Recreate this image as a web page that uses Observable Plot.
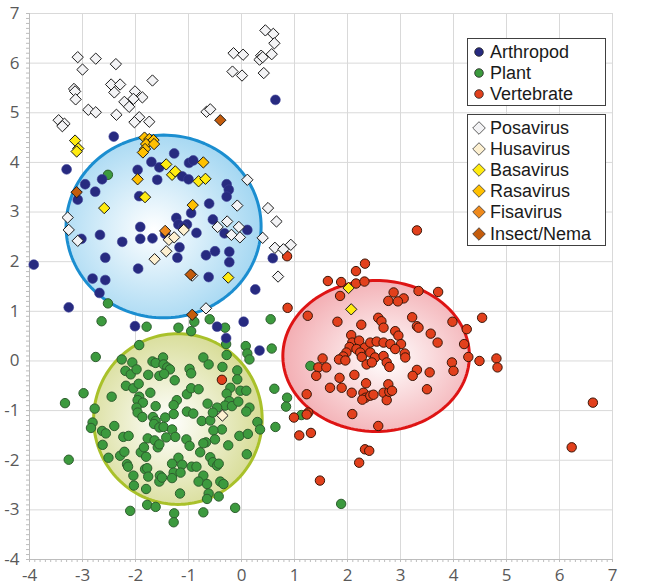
<!DOCTYPE html>
<html><head><meta charset="utf-8">
<script src="https://cdn.jsdelivr.net/npm/d3@7"></script>
<script src="https://cdn.jsdelivr.net/npm/@observablehq/plot@0.6"></script>
<style>
body{margin:0;background:#fff;}
#wrap{position:relative;width:664px;height:585px;font-family:"Open Sans",sans-serif;}
.lg{position:absolute;left:467px;width:139px;border:1px solid #404040;background:#fff;box-sizing:border-box;}
.row{height:21.2px;line-height:20px;display:flex;align-items:center;font-family:"Liberation Sans",Arial,sans-serif;font-size:18px;color:#1a1a1a;white-space:nowrap;}
.row svg{width:20px;height:18px;margin-left:1px;margin-right:1px;flex:none;}
</style></head><body><div id="wrap"></div><script>
// ---- data (x, y) ----
const arthropod = [[-3.92,1.94],[-3.30,3.86],[-2.41,4.52],[-2.95,3.56],[-2.76,3.41],[-2.63,3.66],[-3.09,3.25],[-3.02,2.46],[-2.67,2.54],[-2.25,2.40],[-2.57,2.08],[-2.81,1.66],[-2.57,1.63],[-2.68,1.37],[-3.26,1.08],[-1.96,3.85],[-1.93,3.32],[-1.91,2.70],[-1.91,2.46],[-1.68,2.47],[-1.95,1.86],[-1.70,4.01],[-1.59,3.65],[-1.55,3.90],[-1.27,4.18],[-1.23,2.88],[-1.19,2.75],[-1.17,2.29],[-1.21,2.08],[-1.03,2.75],[-0.99,3.99],[-0.91,4.04],[-1.12,3.72],[-1.00,3.66],[-0.95,2.98],[-0.85,2.58],[-0.61,3.17],[-0.67,2.13],[-0.50,2.21],[-0.62,1.69],[-0.54,2.85],[-0.28,3.56],[-0.24,3.45],[-0.28,3.31],[-0.32,2.57],[-0.23,2.20],[-0.23,1.99],[0.11,2.64],[0.26,1.44],[0.59,2.07],[0.64,5.26],[-2.01,0.70],[-0.46,0.69],[0.04,0.79],[-0.29,0.46],[0.34,0.21],[-1.44,2.56],[-1.10,2.70]];
const plant = [[-2.64,0.80],[-1.79,0.69],[-1.93,0.32],[-2.75,0.08],[-2.26,0.03],[-2.06,-0.03],[-1.68,-0.01],[-1.62,-0.04],[-2.19,-0.20],[-2.09,-0.27],[-1.98,-0.17],[-1.76,-0.28],[-1.55,-0.30],[-2.18,-0.50],[-2.04,-0.55],[-1.94,-0.46],[-1.72,-0.64],[-2.45,-0.72],[-2.98,-0.65],[-3.33,-0.85],[-1.93,-0.72],[-1.96,-0.79],[-1.86,-0.84],[-1.62,-0.91],[-2.77,-0.96],[-1.98,-0.94],[-1.96,-1.04],[-1.87,-1.13],[-1.67,-1.13],[-1.62,-1.21],[-1.65,-1.27],[-1.55,-1.34],[-2.81,-1.24],[-2.84,-1.35],[-2.63,-1.41],[-2.56,-1.46],[-2.40,-1.31],[-2.62,-1.69],[-2.23,-1.53],[-2.13,-1.51],[-1.77,-1.56],[-1.64,-1.60],[-1.58,-1.74],[-1.55,-1.68],[-2.51,-1.95],[-2.29,-1.91],[-2.21,-1.83],[-1.90,-1.84],[-1.84,-1.74],[-1.80,-1.93],[-3.26,-1.99],[-2.16,-2.08],[-2.14,-2.13],[-1.82,-2.18],[-1.78,-2.16],[-2.04,-2.31],[-1.76,-2.33],[-1.54,-2.31],[-1.55,-2.43],[-2.03,-2.51],[-1.80,-2.58],[-1.78,-2.90],[-1.62,-2.94],[-2.10,-3.02],[-2.52,1.16],[-2.52,3.75],
[-1.19,0.67],[-0.95,0.60],[-0.60,0.84],[-0.31,0.67],[-0.29,0.34],[-0.28,0.12],[0.08,0.30],[0.11,0.15],[0.15,0.03],[0.55,0.84],[0.57,0.25],[-0.72,0.07],[-0.62,-0.07],[-0.36,-0.12],[-0.08,-0.19],[-1.48,0.07],[-1.47,-0.07],[-1.40,-0.13],[-1.35,-0.17],[-1.46,-0.26],[-0.98,-0.16],[-0.95,-0.25],[-1.26,-0.39],[-0.08,-0.37],[-0.21,-0.54],[-0.02,-0.60],[0.09,-0.60],[0.62,-0.56],[-1.03,-0.67],[-0.95,-0.55],[-0.81,-0.57],[-0.28,-0.66],[-1.22,-0.79],[-1.28,-0.89],[-0.64,-0.86],[-0.23,-0.81],[-0.31,-0.90],[-0.18,-0.91],[-0.06,-0.82],[0.15,-0.94],[0.09,-1.02],[0.86,-0.74],[0.84,-0.92],[-0.46,-0.94],[-1.03,-1.02],[-0.91,-1.06],[-1.28,-1.07],[-1.44,-1.14],[-0.75,-1.21],[-0.59,-1.20],[-0.54,-1.04],[-0.37,-1.38],[-0.53,-1.40],[0.30,-1.23],[0.35,-1.38],[0.64,-1.33],[-1.47,-1.33],[-1.31,-1.38],[-1.25,-1.53],[-1.42,-1.54],[-1.04,-1.58],[-0.98,-1.71],[-0.67,-1.64],[-0.72,-1.66],[-0.50,-1.58],[-0.04,-1.51],[0.12,-1.47],[-0.25,-1.70],[-0.78,-1.84],[0.10,-1.88],[-1.19,-1.95],[-0.59,-1.94],[-0.54,-2.04],[-0.46,-2.11],[-0.43,-2.07],[-1.31,-2.07],[-1.12,-2.09],[-0.94,-2.13],[-0.85,-2.13],[-1.28,-2.25],[-1.15,-2.25],[-1.31,-2.36],[-1.50,-2.35],[-0.72,-2.31],[-0.81,-2.43],[-0.65,-2.48],[-0.40,-2.43],[-0.34,-2.48],[-0.62,-2.67],[-0.65,-2.78],[-0.43,-2.73],[-1.16,-2.67],[-0.12,-2.96],[-0.72,-3.05],[-1.27,-3.07],[-1.28,-3.25],[-0.89,0.79],[1.30,-0.10],[1.13,-1.09],[1.88,-2.88]];
const vertebrate = [[2.33,1.96],[2.16,1.81],[1.63,1.61],[1.88,1.59],[2.16,1.56],[2.32,1.60],[1.86,1.31],[0.86,2.11],[0.87,1.07],[1.25,0.91],[1.81,0.79],[2.26,0.73],[2.77,1.21],[2.87,1.38],[2.58,0.87],[2.64,0.80],[2.68,0.67],[2.07,0.52],[2.09,0.37],[2.22,0.41],[2.04,0.28],[2.17,0.24],[1.98,0.17],[1.92,0.09],[1.84,0.03],[1.96,0.01],[2.33,0.27],[2.43,0.37],[2.55,0.39],[2.68,0.37],[2.81,0.34],[2.24,0.17],[2.27,0.08],[2.43,0.17],[2.52,0.07],[2.36,-0.07],[2.46,-0.03],[2.68,0.10],[2.74,-0.03],[2.79,-0.12],[1.53,0.05],[1.45,-0.13],[1.60,-0.13],[1.41,-0.30],[1.85,-0.34],[1.89,-0.54],[1.67,-0.54],[2.13,-0.28],[2.08,-0.64],[2.30,-0.64],[2.34,-0.74],[2.28,-0.78],[2.43,-0.70],[2.49,-0.68],[2.35,-0.45],[2.68,-0.64],[2.74,-0.79],[2.79,-0.62],[1.23,-0.67],[1.26,-1.04],[1.23,-1.08],[0.99,-1.14],[1.09,-1.50],[1.31,-1.45],[2.09,-1.07],[2.58,-1.31],[2.33,-1.78],[2.41,-1.81],[2.22,-2.05],[1.48,-2.41],[-0.37,-0.38],
[3.31,2.63],[3.06,1.26],[2.95,1.20],[3.34,1.41],[3.71,1.39],[3.22,0.88],[3.31,0.70],[3.34,0.67],[3.57,0.55],[3.70,0.37],[3.98,0.79],[4.25,0.64],[4.54,0.87],[2.90,0.60],[2.96,0.51],[3.01,0.34],[3.08,0.15],[3.09,0.07],[2.90,0.24],[4.20,0.34],[4.28,0.08],[3.97,-0.03],[4.00,-0.20],[4.49,0.00],[4.81,0.05],[4.83,-0.13],[3.55,-0.23],[3.31,-0.18],[3.23,-0.30],[3.50,-0.57],[2.77,-0.47],[2.84,-0.60],[6.23,-1.74],[6.63,-0.84]];
const posavirus = [[-3.09,6.12],[-2.75,6.09],[-3.00,5.87],[-2.37,5.98],[-1.68,5.65],[-3.16,5.48],[-3.14,5.43],[-3.13,5.27],[-2.46,5.57],[-2.29,5.57],[-2.40,5.41],[-2.01,5.43],[-1.87,5.31],[-2.04,5.28],[-2.21,5.22],[-2.12,5.12],[-2.89,5.06],[-2.75,5.01],[-2.36,4.96],[-3.45,4.85],[-3.34,4.78],[-3.38,4.73],[-1.93,4.91],[-2.02,4.81],[-1.74,4.82],[-0.66,5.02],[-0.59,5.07],
[0.45,6.66],[0.60,6.59],[0.62,6.40],[0.57,6.18],[0.37,6.15],[0.34,6.07],[0.40,6.12],[0.42,5.80],[-0.15,6.20],[0.03,6.17],[-0.17,5.83],[0.01,5.75],
[0.11,3.65],[-0.08,3.13],[0.50,3.08],[0.66,2.81],[-0.45,2.70],[-0.27,2.81],[-0.05,2.70],[-0.03,2.49],[-0.19,2.54],[0.40,2.48],[0.63,2.28],[0.79,2.25],[0.93,2.34],[0.69,1.70],[-3.28,2.89],[-3.26,2.64],[-3.09,2.42],[-0.67,1.06],[-0.93,1.72]];
const husavirus = [[-1.64,2.05],[-1.42,2.21],[-1.37,2.44],[-1.27,2.49],[-1.09,2.64],[-0.36,-1.10]];
const basavirus = [[-3.14,4.44],[-3.08,4.28],[-3.11,4.22],[-2.59,3.08],[-1.82,3.30],[-1.42,3.96],[-1.31,3.75],[-1.25,3.82],[-0.81,3.62],[-0.68,3.67],[-0.25,1.68],[2.02,1.47],[2.07,1.04]];
const rasavirus = [[-1.83,4.50],[-1.74,4.47],[-1.66,4.45],[-1.80,4.37],[-1.65,4.37],[-1.82,4.27],[-1.86,4.20],[-1.96,3.66],[-0.72,4.00],[-0.92,3.14]];
const fisavirus = [[-1.44,2.62]];
const insectNema = [[-0.40,4.85],[-3.11,3.40],[-0.96,1.74],[-0.93,0.93]];

const hostNames = ["Arthropod","Plant","Vertebrate"];
const virusNames = ["Posavirus","Husavirus","Basavirus","Rasavirus","Fisavirus","Insect/Nema"];
const xTicks = [-4,-3,-2,-1,0,1,2,3,4,5,6,7];
const yTicks = [-4,-3,-2,-1,0,1,2,3,4,5,6,7];
// fitted host ellipses (data units)
const ellipseCx = [-1.47,-1.20,2.54];
const ellipseCy = [2.71,-1.17,0.10];
const ellipseRx = [1.84,1.59,1.76];
const ellipseRy = [1.84,1.72,1.52];

// ---- styles ----
const hostFill = ["#272a80","#3c9a3e","#e2401c"];
const hostStroke = ["none","#2e5e2e","#3a1608"];
const virusFill = ["#f3f3f5","#fdf0d0","#ffeb10","#ffc000","#ef8a1c","#c45c0c"];
const ringStroke = ["#1b8ed0","#a9c12a","#de1414"];
const ringInner = ["#ffffff","#ffffff","#ffffff"];
const ringOuter = ["#a4d7f2","#d7dc96","#f3aeb3"];
const gradIds = ["gBlue","gGreen","gRed"];

const toObj = a => a.map(([x,y]) => ({x,y}));
const hostData = [arthropod, plant, vertebrate].map(toObj);
const virusData = [posavirus, husavirus, basavirus, rasavirus, fisavirus, insectNema].map(toObj);

const ellipses = hostNames.map((name,i) => d3.range(0,160).map(k => {
  const t = k/160*2*Math.PI;
  return {x: ellipseCx[i] + ellipseRx[i]*Math.cos(t), y: ellipseCy[i] + ellipseRy[i]*Math.sin(t)};
}));
const minor = d3.range(-40,71).map(i => i/10);

const marks = [
  Plot.ruleX(xTicks, {stroke:"#d9d9d9"}),
  Plot.ruleY(yTicks, {stroke:"#d9d9d9"}),
  Plot.ruleX([-4], {stroke:"#bdbdbd"}),
  Plot.ruleY([-4], {stroke:"#bdbdbd"}),
  Plot.ruleX(minor, {x:d=>d, y1:-4, y2:-4, insetBottom:-3, stroke:"#bdbdbd"}),
  Plot.ruleY(minor, {y:d=>d, x1:-4, x2:-4, insetLeft:-3, stroke:"#bdbdbd"}),
  ...ellipses.map((e,i) => Plot.line(e, {x:"x", y:"y", curve:"linear-closed", fill:`url(#${gradIds[i]})`, stroke:ringStroke[i], strokeWidth:3})),
  Plot.dot(hostData[1], {x:"x", y:"y", r:4.7, fill:hostFill[1], stroke:hostStroke[1], strokeWidth:1}),
  Plot.dot(hostData[0], {x:"x", y:"y", r:4.9, fill:hostFill[0], stroke:"#3c3f96", strokeWidth:0.6}),
  Plot.dot(hostData[2], {x:"x", y:"y", r:4.7, fill:hostFill[2], stroke:hostStroke[2], strokeWidth:1}),
  ...virusData.map((d,i) => Plot.dot(d, {x:"x", y:"y", symbol:"diamond2", r:5.1, fill:virusFill[i], stroke:"#1a1a1a", strokeWidth:1}))
];

const chart = Plot.plot({
  width:664, height:585,
  marginLeft:29, marginRight:52, marginTop:13, marginBottom:26,
  x:{domain:[-4,7], ticks:xTicks, tickSize:0, tickPadding:9, tickFormat:d=>String(d), label:null},
  y:{domain:[-4,7], ticks:yTicks, tickSize:0, tickPadding:10, tickFormat:d=>String(d), label:null},
  style:{fontFamily:"Open Sans, sans-serif", fontSize:"17px", color:"#595959", background:"transparent"},
  marks
});

// radial gradients for ellipse fills
const svg = d3.select(chart);
const defs = svg.insert("defs", ":first-child");
gradIds.forEach((id,i) => {
  const g = defs.append("radialGradient").attr("id", id).attr("cx", i===2 ? "0.55" : "0.45").attr("cy","0.52").attr("r","0.55");
  g.append("stop").attr("offset","0%").attr("stop-color", ringInner[i]);
  g.append("stop").attr("offset","100%").attr("stop-color", ringOuter[i]);
});

const wrap = document.getElementById("wrap");
wrap.appendChild(chart);

// legends
function legendBox(top, height, names, markerFn) {
  const box = document.createElement("div");
  box.className = "lg";
  box.style.top = top + "px";
  box.style.height = height + "px";
  box.style.paddingTop = "2px";
  names.forEach((n,i) => {
    const row = document.createElement("div");
    row.className = "row";
    row.innerHTML = `<svg viewBox="-10 -9 20 18">${markerFn(i)}</svg><span>${n}</span>`;
    box.appendChild(row);
  });
  wrap.appendChild(box);
}
legendBox(38, 68, hostNames, i => `<circle r="4.3" fill="${hostFill[i]}" stroke="#222" stroke-width="0.8"/>`);
legendBox(114, 132, virusNames, i => `<path d="M0,-6.3L6.3,0L0,6.3L-6.3,0Z" fill="${virusFill[i]}" stroke="#333" stroke-width="0.8"/>`);
</script></body></html>
